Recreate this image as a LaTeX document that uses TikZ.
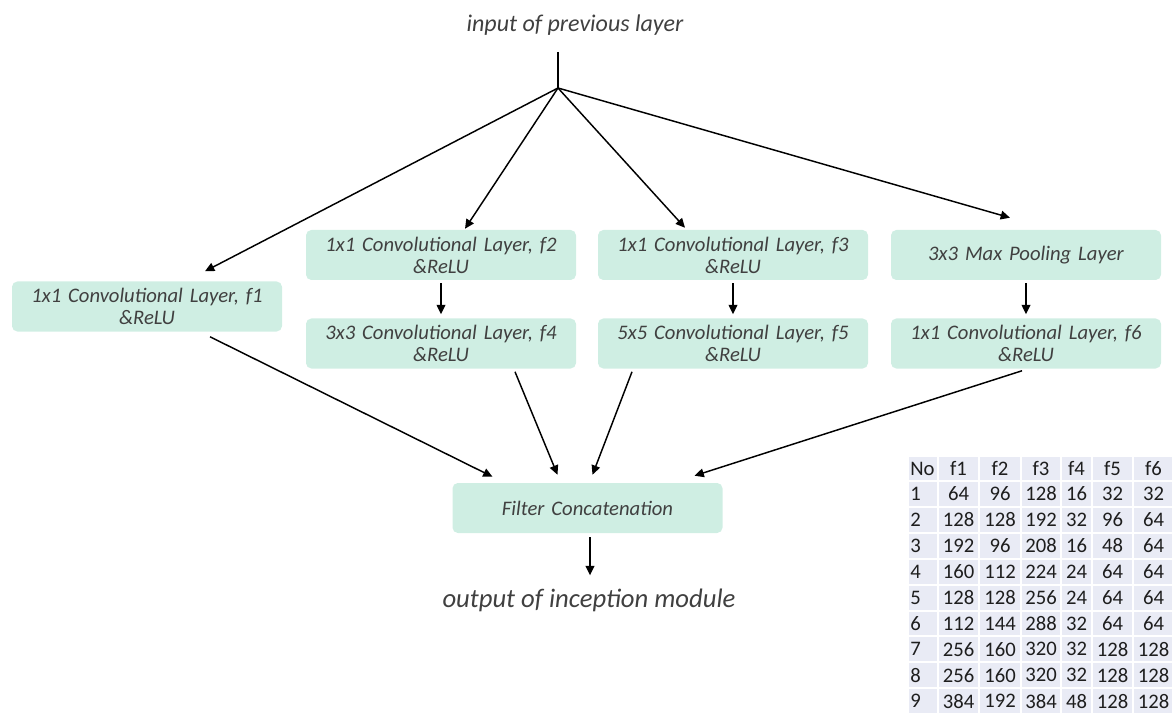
\documentclass[tikz,border=0pt]{standalone}
\usepackage{fontspec}
\setmainfont{Carlito}
\usetikzlibrary{arrows.meta,calc}
\definecolor{boxfill}{RGB}{207,238,227}
\definecolor{txt}{RGB}{64,64,64}
\definecolor{cellfill}{RGB}{233,235,245}
\definecolor{celltxt}{RGB}{30,30,30}

\begin{document}
\begin{tikzpicture}[x=0.75pt,y=-0.75pt,
  layer/.style={fill=boxfill, rounded corners=4pt, minimum width=202.5pt,
    minimum height=37.5pt, text width=200pt, align=center, text=txt, inner sep=0pt,
    font=\itshape\fontsize{15.5}{16.5}\selectfont},
  label/.style={text=txt, inner sep=0pt, font=\itshape\fontsize{18}{20}\selectfont},
  flow/.style={line width=1.1pt, -{Triangle[length=7pt,width=6.5pt]}},
  tabtext/.style={text=celltxt, inner sep=0pt, font=\fontsize{15.5}{17}\selectfont}]

\useasboundingbox (0,0) rectangle (1172,713);

% labels
\node[label] (inp) at (575,25) {input of previous layer};
\node[label, font=\itshape\fontsize{20}{22}\selectfont] (outp) at (589,600) {output of inception module};

% layer boxes
\node[layer] (f1) at (147,306.5) {1x1 Convolutional Layer, f1\\ \&ReLU};
\node[layer] (f2) at (441,255)   {1x1 Convolutional Layer, f2\\ \&ReLU};
\node[layer] (f4) at (441,343.5) {3x3 Convolutional Layer, f4\\ \&ReLU};
\node[layer] (f3) at (733,255)   {1x1 Convolutional Layer, f3\\ \&ReLU};
\node[layer] (f5) at (733,343.5) {5x5 Convolutional Layer, f5\\ \&ReLU};
\node[layer] (mp) at (1026,255)  {3x3 Max Pooling Layer};
\node[layer] (f6) at (1026,343.5){1x1 Convolutional Layer, f6\\ \&ReLU};
\node[layer] (cc) at (587.5,508) {Filter Concatenation};

% branching of the input
\coordinate (top) at (558,52);
\coordinate (br) at (558,88);
\draw[line width=1.1pt] (top) -- (br);
\draw[flow] (br) -- ($(f1.north)+(58,-10)$);
\draw[flow] (br) -- ($(f2.north)+(24,-1)$);
\draw[flow] (br) -- ($(f3.north)+(-48,-2)$);
\draw[flow] (br) -- ($(mp.north)+(-16,-12)$);

% second stage
\draw[flow] ($(f2.south)+(0,3)$) -- ($(f4.north)+(0,-4)$);
\draw[flow] ($(f3.south)+(0,3)$) -- ($(f5.north)+(0,-4)$);
\draw[flow] ($(mp.south)+(0,3)$) -- ($(f6.north)+(0,-4)$);

% into the concatenation
\draw[flow] ($(f1.south)+(63,5)$)   -- ($(cc.north)+(-95,-6)$);
\draw[flow] ($(f4.south)+(74,3)$)   -- ($(cc.north)+(-30,-8)$);
\draw[flow] ($(f5.south)+(-101,3)$) -- ($(cc.north)+(5,-8)$);
\draw[flow] ($(f6.south)+(-4,2)$)   -- ($(cc.north)+(107,-7)$);
\draw[flow] ($(cc.south)+(2.5,4)$)  -- ($(outp.north)+(1,-13)$);

% filter table
\foreach \row [count=\r from 0] in {
  {No,f1,f2,f3,f4,f5,f6},
  {1,64,96,128,16,32,32},
  {2,128,128,192,32,96,64},
  {3,192,96,208,16,48,64},
  {4,160,112,224,24,64,64},
  {5,128,128,256,24,64,64},
  {6,112,144,288,32,64,64},
  {7,256,160,320,32,128,128},
  {8,256,160,320,32,128,128},
  {9,384,192,384,48,128,128}} {
  \foreach \v [count=\c from 0] in \row {
    \pgfmathsetmacro\xl{{908,938,979,1021,1061,1092,1133,1174}[\c]}
    \pgfmathsetmacro\xr{{908,938,979,1021,1061,1092,1133,1174}[\c+1]}
    \pgfmathsetmacro\yt{\r==0 ? 456 : 481+(\r-1)*25.9}
    \pgfmathsetmacro\yb{481+\r*25.9}
    \fill[cellfill] (\xl+1,\yt+1) rectangle (\xr-1,\yb-1);
    \ifnum\c=0
      \node[tabtext, anchor=west] (cell-\r-\c) at (\xl+2,{(\yt+\yb)/2}) {\v};
    \else
      \node[tabtext] (cell-\r-\c) at ({(\xl+\xr)/2},{(\yt+\yb)/2}) {\v};
    \fi
  }
}
\end{tikzpicture}
\end{document}
